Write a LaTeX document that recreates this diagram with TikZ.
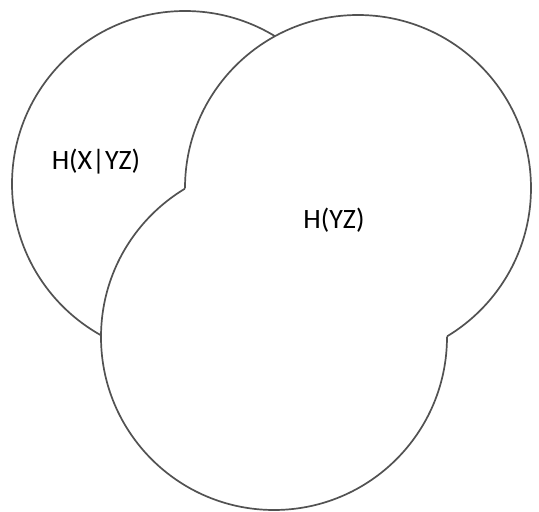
\documentclass[tikz,border=0pt]{standalone}
\usepackage{fontspec}
\setmainfont{Carlito}
\begin{document}
\begin{tikzpicture}[x=1pt,y=1pt,
  outline/.style={draw=black!68, line width=1.7pt},
  lbl/.style={font=\fontsize{28}{33}\selectfont, anchor=base, inner sep=0pt}]
\useasboundingbox (0,0) rectangle (539,512);
\coordinate (X) at (185,328);
\coordinate (Y) at (358,324);
\coordinate (Z) at (274,175);
\def\R{173}
% circle Y, outside Z
\begin{scope}[even odd rule]
  \clip (-20,-20) rectangle (560,540) (Z) circle (\R);
  \draw[outline] (Y) circle (\R);
\end{scope}
% circle Z, outside Y
\begin{scope}[even odd rule]
  \clip (-20,-20) rectangle (560,540) (Y) circle (\R);
  \draw[outline] (Z) circle (\R);
\end{scope}
% circle X, outside Y and Z
\begin{scope}[even odd rule]
  \clip (-20,-20) rectangle (560,540) (Y) circle (\R);
  \clip (-20,-20) rectangle (560,540) (Z) circle (\R);
  \draw[outline] (X) circle (\R);
\end{scope}
\node[lbl] (hx) at (96,342.7) {H(X|YZ)};
\node[lbl] (hyz) at (334,283.7) {H(YZ)};
\end{tikzpicture}
\end{document}
